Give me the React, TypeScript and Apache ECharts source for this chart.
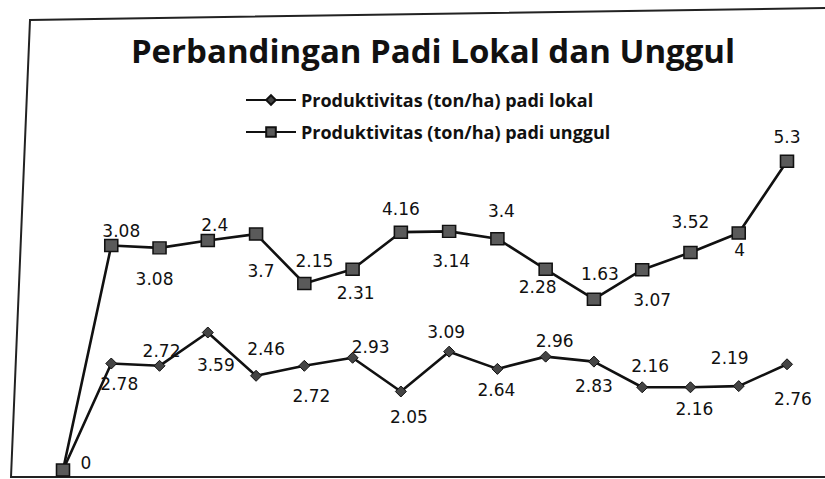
import React, { useEffect, useRef } from "react";
import * as echarts from "echarts";

const categories = ["1", "2", "3", "4", "5", "6", "7", "8", "9", "10", "11", "12", "13", "14", "15", "16"];
const lokal = [0, 2.78, 2.72, 3.59, 2.46, 2.72, 2.93, 2.05, 3.09, 2.64, 2.96, 2.83, 2.16, 2.16, 2.19, 2.76];
const unggul = [0, 3.08, 3.08, 2.4, 3.7, 2.15, 2.31, 4.16, 3.14, 3.4, 2.28, 1.63, 3.07, 3.52, 4, 5.3];
const lokalName = "Produktivitas (ton/ha) padi lokal";
const unggulName = "Produktivitas (ton/ha) padi unggul";
const titleText = "Perbandingan Padi Lokal dan Unggul";

// label offsets (dx, dy) relative to the point
const lokalOffsets = [[23, -7], [8, 20], [2, -15], [8, 32], [10, -27], [7, 30], [18, -11], [8, 26], [-3, -20], [-1, 21], [9, -16], [0, 24], [8, -21], [4, 22], [-9, -28], [6, 35]];
const unggulOffsets = [[0, 0], [10, -15], [-5, 31], [7, -16], [5, 37], [10, -22], [3, 24], [0, -23], [2, 30], [4, -28], [-8, 18], [6, -25], [10, 30], [0, -30], [1, 17], [0, -24]];

export default function App() {
  const ref = useRef<HTMLDivElement>(null);
  useEffect(() => {
    if (!ref.current) return;
    const chart = echarts.init(ref.current, undefined, { renderer: "svg" });
    const labelFont = { fontFamily: "DejaVu Sans", fontSize: 17, color: "#111" };
    chart.setOption({
      animation: false,
      backgroundColor: "#ffffff",
      legend: {
        orient: "vertical",
        left: 240,
        top: 86,
        itemWidth: 50,
        itemHeight: 12,
        itemGap: 14,
        textStyle: { fontFamily: "Open Sans", fontSize: 18, fontWeight: "bold", color: "#111" },
        data: [lokalName, unggulName],
      },
      grid: { left: 63, right: 38, top: 470 - 8.5 * 38.3, bottom: 9 },
      xAxis: { type: "category", data: categories, boundaryGap: false, show: false },
      yAxis: { type: "value", min: 0, max: 8.5, show: false },
      series: [
        {
          name: lokalName,
          type: "line",
          stack: "total",
          clip: false,
          symbol: "diamond",
          symbolSize: 11,
          lineStyle: { color: "#111", width: 2.6 },
          itemStyle: { color: "#444", borderColor: "#111", borderWidth: 1 },
          data: lokal.map((v, i) => ({
            value: v,
            label: { show: true, position: "inside", offset: lokalOffsets[i], ...labelFont },
          })),
        },
        {
          name: unggulName,
          type: "line",
          stack: "total",
          clip: false,
          symbol: "rect",
          symbolSize: [13, 12],
          lineStyle: { color: "#111", width: 2.6 },
          itemStyle: { color: "#5a5a5a", borderColor: "#111", borderWidth: 1.5 },
          data: unggul.map((v, i) => ({
            value: v,
            label: { show: i !== 0, position: "inside", offset: unggulOffsets[i], ...labelFont },
          })),
        },
      ],
      graphic: [
        {
          type: "text",
          x: 433,
          y: 50,
          silent: true,
          style: {
            text: titleText,
            textAlign: "center",
            textVerticalAlign: "middle",
            fontFamily: "Open Sans",
            fontWeight: "bold",
            fontSize: 33,
            fill: "#111",
          },
        },
        {
          type: "polyline",
          shape: { points: [[825, 8], [30, 20], [11, 477], [825, 477]] },
          style: { stroke: "#222", lineWidth: 2, fill: null },
          silent: true,
        },
      ],
    });
    return () => chart.dispose();
  }, []);
  return <div ref={ref} style={{ position: "fixed", left: 0, top: 0, width: 825, height: 479 }} />;
}
